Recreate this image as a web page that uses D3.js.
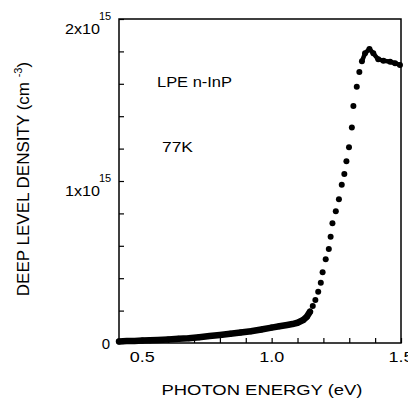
<!DOCTYPE html>
<html><head><meta charset="utf-8">
<script src="https://cdn.jsdelivr.net/npm/d3@7"></script>
<style>body{margin:0;background:#fff}svg{display:block}text{font-family:"Liberation Sans",Arial,sans-serif;fill:#000}</style>
</head><body>
<script>
// photon energy (eV) and deep level density (x1e15 cm^-3)
const energy = [0.41,0.44,0.47,0.50,0.53,0.56,0.60,0.64,0.68,0.72,0.76,0.80,0.84,0.88,0.92,0.96,1.00,1.03,1.06,1.08,1.10,
  1.122,1.136,1.148,1.159,1.169,1.180,1.190,1.197,1.209,1.221,1.228,1.235,1.248,1.260,1.271,1.281,1.289,1.299,1.310,1.316,1.329,1.339,
  1.349,1.361,1.378,1.393,1.412,1.432,1.458,1.477,1.496];
const density = [0.010,0.012,0.013,0.015,0.017,0.019,0.022,0.026,0.030,0.036,0.043,0.050,0.057,0.065,0.073,0.083,0.095,0.103,0.111,0.117,0.125,
  0.142,0.162,0.193,0.228,0.265,0.317,0.372,0.436,0.517,0.580,0.656,0.739,0.813,0.887,0.977,1.043,1.122,1.208,1.331,1.463,1.582,1.673,
  1.739,1.788,1.815,1.788,1.751,1.743,1.736,1.727,1.716];
const xTicks = [0.5,0.6,0.7,0.8,0.9,1.0,1.1,1.2,1.3,1.4,1.5];
const xTickLabels = ["0.5","1.0","1.5"];
const yTicks = [0,0.2,0.4,0.6,0.8,1.0,1.2,1.4,1.6,1.8,2.0];
const yTickLabels = ["0","1x10","2x10"];

const W = 408, H = 403;
const L = 119, R = 401, T = 19, B = 343;
const svg = d3.select("body").append("svg").attr("width", W).attr("height", H);
const x = d3.scaleLinear().domain([0.41, 1.5]).range([L, R]);
const y = d3.scaleLinear().domain([0, 2]).range([B, T]);

// frame
svg.append("rect").attr("x", L).attr("y", T).attr("width", R - L).attr("height", B - T)
  .attr("fill", "none").attr("stroke", "#000").attr("stroke-width", 1.5);

// axes with inward ticks
const xAx = svg.append("g").attr("transform", `translate(0,${B})`)
  .call(d3.axisTop(x).tickValues(xTicks).tickSize(5).tickFormat(""));
const yAx = svg.append("g").attr("transform", `translate(${L},0)`)
  .call(d3.axisRight(y).tickValues(yTicks).tickSize(5).tickFormat(""));
[xAx, yAx].forEach(g => { g.select(".domain").remove(); g.selectAll("line").attr("stroke", "#000").attr("stroke-width", 1.2); });

// x tick labels
xTickLabels.forEach(t => {
  svg.append("text").attr("x", x(+t)).attr("y", 362).attr("text-anchor", "middle")
    .attr("font-size", 15).attr("textLength", 25).attr("lengthAdjust", "spacingAndGlyphs").text(t);
});
// y tick labels
yTickLabels.forEach((t, i) => {
  const yy = y(i);
  if (i === 0) {
    svg.append("text").attr("x", 110).attr("y", yy + 6).attr("text-anchor", "end").attr("font-size", 15).text(t);
  } else {
    svg.append("text").attr("x", 100).attr("y", yy + 15).attr("text-anchor", "end").attr("font-size", 15)
      .attr("textLength", 35).attr("lengthAdjust", "spacingAndGlyphs").text(t);
    svg.append("text").attr("x", 99).attr("y", yy + 1).attr("font-size", 11).text("15");
  }
});

// axis titles
svg.append("text").attr("x", 262).attr("y", 395).attr("text-anchor", "middle").attr("font-size", 15)
  .attr("textLength", 201).attr("lengthAdjust", "spacingAndGlyphs").text("PHOTON ENERGY (eV)");
const yl = svg.append("text").attr("transform", "translate(29,179) rotate(-90)").attr("text-anchor", "middle")
  .attr("font-size", 17);
yl.append("tspan").text("DEEP LEVEL DENSITY (cm ");
yl.append("tspan").attr("font-size", 11).attr("dy", -7).text("-3");
yl.append("tspan").attr("dy", 7).text(")");

// annotations
svg.append("text").attr("x", 157).attr("y", 87).attr("font-size", 15).attr("textLength", 75)
  .attr("lengthAdjust", "spacingAndGlyphs").text("LPE n-InP");
svg.append("text").attr("x", 162).attr("y", 152).attr("font-size", 15).attr("textLength", 31)
  .attr("lengthAdjust", "spacingAndGlyphs").text("77K");

// data
const pts = energy.map((e, i) => ({ e, d: density[i] }));
const line = d3.line().x(p => x(p.e)).y(p => y(p.d));
svg.append("path").datum(pts.filter(p => p.e <= 1.15)).attr("d", line)
  .attr("fill", "none").attr("stroke", "#000").attr("stroke-width", 6.5).attr("stroke-linejoin", "round").attr("stroke-linecap", "round");
svg.append("path").datum(pts.filter(p => p.e >= 1.345)).attr("d", line)
  .attr("fill", "none").attr("stroke", "#000").attr("stroke-width", 4.5).attr("stroke-linejoin", "round").attr("stroke-linecap", "round");
svg.append("g").selectAll("circle").data(pts).join("circle")
  .attr("cx", p => x(p.e)).attr("cy", p => y(p.d)).attr("r", 3).attr("fill", "#000");
</script>
</body></html>
